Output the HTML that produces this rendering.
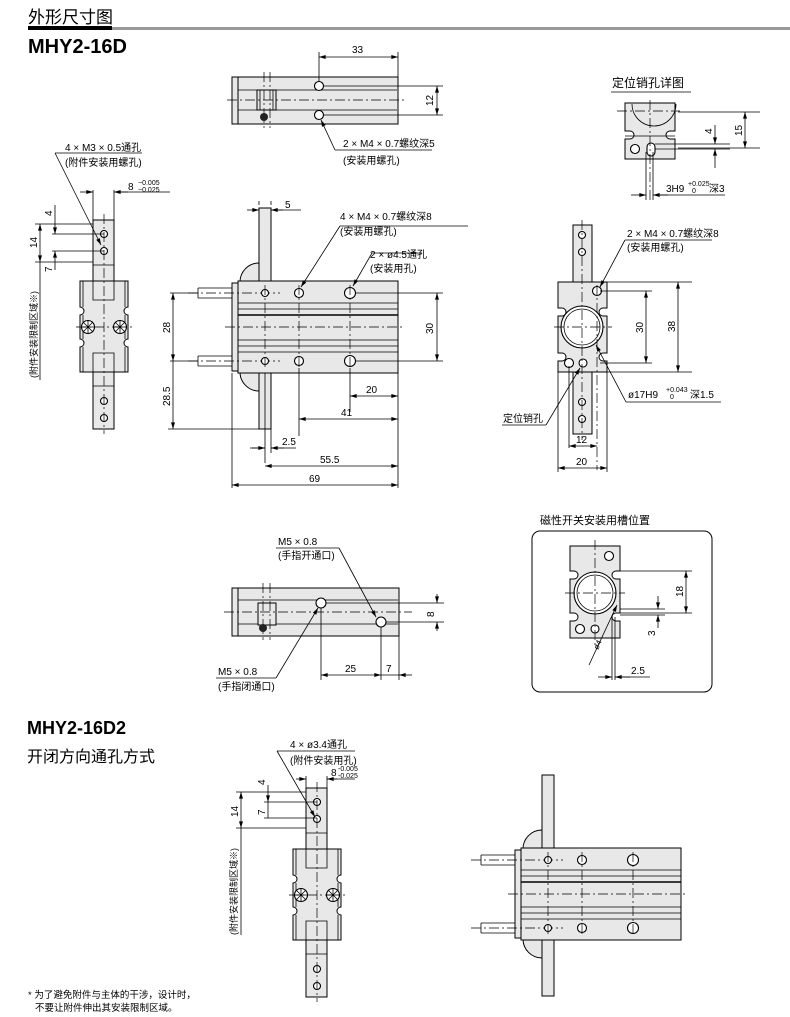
<!DOCTYPE html>
<html><head><meta charset="utf-8"><style>
html,body{margin:0;padding:0;background:#fff}
svg{display:block}
text{font-family:"Liberation Sans","Noto Sans CJK SC",sans-serif;fill:#000}
.t{font-size:10px}
.s{font-size:7px}
.b{fill:#e8e8e8;stroke:#000;stroke-width:1}
.l{stroke:#000;stroke-width:0.8;fill:none}
.c{stroke:#000;stroke-width:0.7;fill:none;stroke-dasharray:10 3 2 3}
.h{fill:#fff;stroke:#000;stroke-width:1.1}
</style></head><body>
<svg width="790" height="1017" viewBox="0 0 790 1017" xmlns="http://www.w3.org/2000/svg">
<defs>
<marker id="a" viewBox="0 0 10 6" refX="10" refY="3" markerWidth="9" markerHeight="5" orient="auto-start-reverse"><path d="M0,0L10,3L0,6z" fill="#000"/></marker>
<g id="side">
 <rect class="b" x="93" y="220" width="21" height="62"/>
 <path class="b" d="M80,281H128V307A4,4 0 0 0 128,315V339A4,4 0 0 0 128,347V372H80V347A4,4 0 0 0 80,339V315A4,4 0 0 0 80,307Z"/>
 <path class="l" d="M93,281V300H114V281M93,372V353H114V372M83,281V307M125,281V307M83,347V372M125,347V372M83,315V339M125,315V339"/>
 <rect class="b" x="93" y="372" width="21" height="57"/>
 <line class="l" x1="93" y1="265" x2="114" y2="265"/><line class="l" x1="93" y1="386" x2="114" y2="386"/>
 <circle class="h" cx="104" cy="234" r="3.5"/><circle class="h" cx="104" cy="251" r="3.5"/>
 <circle class="h" cx="104" cy="401" r="3.5"/><circle class="h" cx="104" cy="418" r="3.5"/>
 <circle class="h" cx="88" cy="327" r="6.5"/><circle class="h" cx="120" cy="327" r="6.5"/>
 <path class="l" d="M83,322l10,10M83,332l10,-10M88,320v14M81,327h14M115,322l10,10M115,332l10,-10M120,320v14M113,327h14"/>
 <line class="c" x1="104" y1="214" x2="104" y2="434"/>
 <line class="c" x1="76" y1="327" x2="132" y2="327"/>
</g>
<g id="front">
 <rect class="b" x="259" y="208" width="12" height="221"/>
 <path class="b" d="M259,263A19,19 0 0 0 240,282H259Z"/>
 <path class="b" d="M259,391A19,19 0 0 1 240,372H259Z"/>
 <rect class="b" x="238" y="281" width="160" height="92"/>
 <rect class="b" x="232" y="283" width="6" height="88"/>
 <path class="l" d="M238,303H398M238,309H398M238,340H398M238,346H398M238,352H398"/>
 <path stroke="#000" stroke-width="1.5" d="M238,315H398"/>
 <path class="l" d="M198,288h34M198,298h34M198,288v10M198,356h34M198,366h34M198,356v10"/>
 <line class="c" x1="188" y1="293" x2="280" y2="293"/><line class="c" x1="188" y1="361" x2="280" y2="361"/>
 <circle class="h" cx="265" cy="293" r="3.5"/><circle class="h" cx="265" cy="361" r="3.5"/>
 <circle class="h" cx="299" cy="293" r="4.5" stroke-width="1.6"/><circle class="h" cx="299" cy="361" r="4.5" stroke-width="1.6"/>
 <circle class="h" cx="350" cy="293" r="5.5"/><circle class="h" cx="350" cy="361" r="5.5"/>
 <line class="c" x1="225" y1="327" x2="405" y2="327"/>
 <line class="c" x1="265" y1="285" x2="265" y2="369"/><line class="c" x1="299" y1="285" x2="299" y2="369"/><line class="c" x1="350" y1="285" x2="350" y2="369"/>
</g>
</defs>

<!-- header -->
<text x="28" y="23" style="font-size:17px">外形尺寸图</text>
<rect x="28" y="27" width="762" height="3" fill="#999"/>
<rect x="28" y="26" width="84" height="4" fill="#000"/>
<text x="28" y="53" style="font-size:20px;font-weight:bold">MHY2-16D</text>

<!-- top view -->
<rect class="b" x="232" y="77" width="166" height="47"/>
<rect class="b" x="232" y="77" width="6" height="47"/>
<path class="l" d="M238,90h159M238,110h159"/>
<rect class="b" x="257" y="90" width="19" height="20"/>
<path class="l" d="M260,90v20M273,90v20"/>
<line class="c" x1="264" y1="72" x2="264" y2="128"/><line class="c" x1="270" y1="72" x2="270" y2="128"/>
<circle cx="264" cy="117" r="4" fill="#222"/>
<circle class="h" cx="319" cy="86" r="4.5" stroke-width="1.5"/><circle class="h" cx="319" cy="115" r="4.5" stroke-width="1.5"/>
<line class="c" x1="227" y1="100" x2="405" y2="100"/>
<path class="l" d="M319,52v30M398,52v25"/>
<line class="l" x1="319" y1="57" x2="398" y2="57" marker-start="url(#a)" marker-end="url(#a)"/>
<text x="352" y="53" class="t">33</text>
<path class="l" d="M323,86h120M323,115h120"/>
<line class="l" x1="437" y1="86" x2="437" y2="115" marker-start="url(#a)" marker-end="url(#a)"/>
<text class="t" transform="translate(433,106) rotate(-90)">12</text>
<path class="l" d="M335,150h97"/>
<line class="l" x1="335" y1="150" x2="321" y2="120" marker-end="url(#a)"/>
<text x="343" y="147" class="t">2 × M4 × 0.7螺纹深5</text>
<text x="343" y="164" class="t">(安装用螺孔)</text>

<!-- left side view -->
<use href="#side"/>
<text x="65" y="151" class="t">4 × M3 × 0.5通孔</text>
<text x="65" y="166" class="t">(附件安装用螺孔)</text>
<path class="l" d="M55,153h87"/>
<line class="l" x1="55" y1="153" x2="101" y2="245" marker-end="url(#a)"/>
<path class="l" d="M93,190v30M114,190v30M120,192h50"/>
<line class="l" x1="80" y1="192" x2="93" y2="192" marker-end="url(#a)"/>
<line class="l" x1="128" y1="192" x2="114" y2="192" marker-end="url(#a)"/>
<text x="128" y="190" class="t">8</text>
<text x="138" y="185" class="s">−0.005</text><text x="138" y="192" class="s">−0.025</text>
<path class="l" d="M35,224h58M52,234h52M52,251h52M35,262h58"/>
<line class="l" x1="55" y1="205" x2="55" y2="234" marker-end="url(#a)"/>
<line class="l" x1="55" y1="270" x2="55" y2="251" marker-end="url(#a)"/>
<line class="l" x1="40" y1="224" x2="40" y2="262" marker-start="url(#a)" marker-end="url(#a)"/>
<line class="l" x1="40" y1="262" x2="40" y2="380"/>
<text class="t" transform="translate(52,216) rotate(-90)">4</text>
<text class="t" transform="translate(37,248) rotate(-90)">14</text>
<text class="t" transform="translate(52,272) rotate(-90)">7</text>
<text style="font-size:9px" transform="translate(37,378) rotate(-90)">(附件安装限制区域※)</text>

<!-- front view -->
<use href="#front"/>
<path class="l" d="M259,205v-4M271,205v-4M271,210h30"/>
<line class="l" x1="247" y1="210" x2="259" y2="210" marker-end="url(#a)"/>
<line class="l" x1="283" y1="210" x2="271" y2="210" marker-end="url(#a)"/>
<text x="285" y="208" class="t">5</text>
<path class="l" d="M340,226h128"/>
<line class="l" x1="340" y1="226" x2="301" y2="287" marker-end="url(#a)"/>
<text x="340" y="220" class="t">4 × M4 × 0.7螺纹深8</text>
<text x="340" y="235" class="t">(安装用螺孔)</text>
<path class="l" d="M372,253h50"/>
<line class="l" x1="372" y1="253" x2="353" y2="286" marker-end="url(#a)"/>
<text x="370" y="258" class="t">2 × ø4.5通孔</text>
<text x="370" y="272" class="t">(安装用孔)</text>
<path class="l" d="M170,293h28M170,361h28M355,293h88M355,361h88"/>
<line class="l" x1="437" y1="293" x2="437" y2="361" marker-start="url(#a)" marker-end="url(#a)"/>
<text class="t" transform="translate(433,334) rotate(-90)">30</text>
<line class="l" x1="173" y1="293" x2="173" y2="361" marker-start="url(#a)" marker-end="url(#a)"/>
<text class="t" transform="translate(170,333) rotate(-90)">28</text>
<line class="l" x1="173" y1="361" x2="173" y2="429" marker-end="url(#a)"/>
<path class="l" d="M168,429h91"/>
<text class="t" transform="translate(170,406) rotate(-90)">28.5</text>
<path class="l" d="M350,368v44M299,368v68M398,373v115M265,373v90M232,373v115M271,429v24"/>
<line class="l" x1="350" y1="396" x2="398" y2="396" marker-start="url(#a)" marker-end="url(#a)"/>
<text x="366" y="393" class="t">20</text>
<line class="l" x1="299" y1="419" x2="398" y2="419" marker-start="url(#a)" marker-end="url(#a)"/>
<text x="341" y="416" class="t">41</text>
<path class="l" d="M250,448h15M271,448h25"/>
<line class="l" x1="252" y1="448" x2="265" y2="448" marker-end="url(#a)"/>
<line class="l" x1="284" y1="448" x2="271" y2="448" marker-end="url(#a)"/>
<text x="282" y="445" class="t">2.5</text>
<line class="l" x1="265" y1="466" x2="398" y2="466" marker-start="url(#a)" marker-end="url(#a)"/>
<text x="320" y="463" class="t">55.5</text>
<line class="l" x1="232" y1="485" x2="398" y2="485" marker-start="url(#a)" marker-end="url(#a)"/>
<text x="309" y="482" class="t">69</text>

<!-- pin hole detail -->
<text x="612" y="87" style="font-size:12px">定位销孔详图</text>
<line class="l" x1="611" y1="92" x2="691" y2="92"/>
<path class="b" d="M625,103h50v28h-5a4,4 0 0 0 0,8h5v20h-50v-20h5a4,4 0 0 0 0,-8h-5z"/>
<path class="l" d="M632,104a22,22 0 0 0 44,0" stroke-width="1.2"/>
<line class="l" x1="625" y1="136" x2="675" y2="136"/>
<circle class="h" cx="635" cy="149" r="4.5" stroke-width="1.6"/>
<rect class="h" x="647" y="143" width="8" height="13" rx="4"/>
<line class="c" x1="650" y1="100" x2="650" y2="200"/>
<line class="c" x1="617" y1="111" x2="680" y2="111"/>
<path class="l" d="M678,112h82M655,144h75M655,149h75M678,148h82M646,152v48M653,152v48"/>
<line class="l" x1="745" y1="112" x2="745" y2="148" marker-start="url(#a)" marker-end="url(#a)"/>
<text class="t" transform="translate(742,136) rotate(-90)">15</text>
<line class="l" x1="715" y1="125" x2="715" y2="144" marker-end="url(#a)"/>
<line class="l" x1="715" y1="168" x2="715" y2="149" marker-end="url(#a)"/>
<text class="t" transform="translate(712,134) rotate(-90)">4</text>
<line class="l" x1="631" y1="195" x2="646" y2="195" marker-end="url(#a)"/>
<line class="l" x1="668" y1="195" x2="653" y2="195" marker-end="url(#a)"/>
<line class="l" x1="660" y1="195" x2="725" y2="195"/>
<text x="666" y="192" class="t">3H9</text>
<text x="688" y="186" class="s">+0.025</text><text x="692" y="193" class="s">0</text>
<text x="709" y="192" class="t">深3</text>

<!-- right end view -->
<rect class="b" x="573" y="225" width="19" height="57"/>
<rect class="b" x="573" y="372" width="19" height="62"/>
<path class="b" d="M558,282h49v26h-4a4,4 0 0 0 0,8h4v37h-4a4,4 0 0 0 0,8h4v11h-49v-11h4a4,4 0 0 0 0,-8h-4v-37h4a4,4 0 0 0 0,-8h-4z"/>
<circle class="h" cx="582" cy="327" r="21" stroke-width="1.2"/>
<circle class="l" cx="582" cy="327" r="18"/>
<circle class="h" cx="597" cy="291" r="4.5" stroke-width="1.6"/>
<circle class="h" cx="569" cy="363" r="4.5" stroke-width="1.6"/>
<circle class="h" cx="583" cy="363" r="4"/>
<circle class="h" cx="582" cy="235" r="3.5"/><circle class="h" cx="582" cy="252" r="3.5"/>
<circle class="h" cx="582" cy="402" r="3.5"/><circle class="h" cx="582" cy="419" r="3.5"/>
<line class="c" x1="582" y1="220" x2="582" y2="440"/>
<line class="c" x1="554" y1="327" x2="612" y2="327"/>
<line class="c" x1="597" y1="285" x2="597" y2="470"/>
<path class="l" d="M607,282h85M607,372h85M600,291h52M600,363h52M569,366v82M558,372v100M607,372v100"/>
<line class="l" x1="646" y1="291" x2="646" y2="363" marker-start="url(#a)" marker-end="url(#a)"/>
<text class="t" transform="translate(643,333) rotate(-90)">30</text>
<line class="l" x1="678" y1="282" x2="678" y2="372" marker-start="url(#a)" marker-end="url(#a)"/>
<text class="t" transform="translate(675,332) rotate(-90)">38</text>
<line class="l" x1="569" y1="446" x2="597" y2="446" marker-start="url(#a)" marker-end="url(#a)"/>
<text x="576" y="443" class="t">12</text>
<line class="l" x1="558" y1="468" x2="607" y2="468" marker-start="url(#a)" marker-end="url(#a)"/>
<text x="576" y="465" class="t">20</text>
<path class="l" d="M625,240h87"/>
<line class="l" x1="625" y1="240" x2="600" y2="287" marker-end="url(#a)"/>
<text x="627" y="237" class="t">2 × M4 × 0.7螺纹深8</text>
<text x="627" y="251" class="t">(安装用螺孔)</text>
<path class="l" d="M626,402h95"/>
<line class="l" x1="626" y1="402" x2="596" y2="345" marker-end="url(#a)"/>
<text x="628" y="398" class="t">ø17H9</text>
<text x="666" y="392" class="s">+0.043</text><text x="670" y="399" class="s">0</text>
<text x="690" y="398" class="t">深1.5</text>
<path class="l" d="M502,425h44"/>
<line class="l" x1="546" y1="425" x2="580" y2="368" marker-end="url(#a)"/>
<text x="503" y="422" class="t">定位销孔</text>

<!-- bottom side view -->
<rect class="b" x="232" y="588" width="167" height="48"/>
<rect class="b" x="232" y="588" width="6" height="48"/>
<path class="l" d="M238,600h160M238,624h160"/>
<rect class="b" x="258" y="603" width="18" height="22"/>
<line class="c" x1="263" y1="583" x2="263" y2="640"/><line class="c" x1="270" y1="583" x2="270" y2="640"/>
<circle cx="263" cy="628" r="4" fill="#222"/>
<circle class="h" cx="321" cy="603" r="5" stroke-width="1.5"/><circle class="h" cx="381" cy="622" r="5" stroke-width="1.5"/>
<line class="c" x1="224" y1="612" x2="412" y2="612"/>
<path class="l" d="M326,603h118M386,622h58M321,608v72M381,627v53M399,636v44"/>
<line class="l" x1="437" y1="594" x2="437" y2="603" marker-end="url(#a)"/>
<line class="l" x1="437" y1="631" x2="437" y2="622" marker-end="url(#a)"/>
<text class="t" transform="translate(434,617) rotate(-90)">8</text>
<line class="l" x1="321" y1="675" x2="381" y2="675" marker-start="url(#a)" marker-end="url(#a)"/>
<line class="l" x1="412" y1="675" x2="399" y2="675" marker-end="url(#a)"/>
<line class="l" x1="381" y1="675" x2="399" y2="675"/>
<text x="345" y="672" class="t">25</text><text x="386" y="672" class="t">7</text>
<text x="278" y="545" class="t">M5 × 0.8</text>
<text x="278" y="559" class="t">(手指开通口)</text>
<path class="l" d="M276,548h63"/>
<line class="l" x1="339" y1="548" x2="376" y2="617" marker-end="url(#a)"/>
<text x="218" y="675" class="t">M5 × 0.8</text>
<text x="218" y="690" class="t">(手指闭通口)</text>
<path class="l" d="M216,678h60"/>
<line class="l" x1="276" y1="678" x2="318" y2="608" marker-end="url(#a)"/>

<!-- magnetic switch box -->
<text x="540" y="524" style="font-size:11px">磁性开关安装用槽位置</text>
<rect x="532" y="531" width="180" height="161" rx="8" fill="none" stroke="#000" stroke-width="1"/>
<path class="b" d="M570,546h50v25h-4a4,4 0 0 0 0,8h4v34h-4a4,4 0 0 0 0,8h4v17h-50v-17h4a4,4 0 0 0 0,-8h-4v-34h4a4,4 0 0 0 0,-8h-4z"/>
<circle class="h" cx="595" cy="593" r="21" stroke-width="1.2"/>
<circle class="l" cx="595" cy="593" r="18"/>
<circle class="h" cx="609" cy="556" r="4.5" stroke-width="1.6"/>
<circle class="h" cx="580" cy="629" r="4.5" stroke-width="1.6"/>
<circle class="h" cx="595" cy="629" r="4"/>
<line class="c" x1="595" y1="540" x2="595" y2="645"/>
<line class="c" x1="565" y1="593" x2="625" y2="593"/>
<path class="l" d="M620,571h72M620,613h72M620,609h45M620,615h45M612,617v63M615,617v63"/>
<line class="l" x1="686" y1="571" x2="686" y2="613" marker-start="url(#a)" marker-end="url(#a)"/>
<text class="t" transform="translate(683,597) rotate(-90)">18</text>
<line class="l" x1="658" y1="596" x2="658" y2="609" marker-end="url(#a)"/>
<line class="l" x1="658" y1="628" x2="658" y2="615" marker-end="url(#a)"/>
<text class="t" transform="translate(655,636) rotate(-90)">3</text>
<line class="l" x1="589" y1="665" x2="617" y2="605" marker-end="url(#a)"/>
<text class="s" style="font-size:8px" transform="translate(598,650) rotate(-65)">ø4</text>
<line class="l" x1="598" y1="677" x2="612" y2="677" marker-end="url(#a)"/>
<line class="l" x1="630" y1="677" x2="615" y2="677" marker-end="url(#a)"/>
<line class="l" x1="615" y1="677" x2="650" y2="677"/>
<text x="631" y="674" class="t">2.5</text>

<!-- D2 -->
<text x="27" y="734" style="font-size:18px;font-weight:bold">MHY2-16D2</text>
<text x="27" y="762" style="font-size:16px">开闭方向通孔方式</text>
<use href="#side" transform="translate(213,568)"/>
<use href="#front" transform="translate(283,567)"/>
<text x="290" y="748" class="t">4 × ø3.4通孔</text>
<text x="290" y="764" class="t">(附件安装用孔)</text>
<path class="l" d="M277,751h78"/>
<line class="l" x1="277" y1="751" x2="315" y2="817" marker-end="url(#a)"/>
<path class="l" d="M306,776v16M327,776v16M327,779h28"/>
<line class="l" x1="296" y1="779" x2="306" y2="779" marker-end="url(#a)"/>
<line class="l" x1="337" y1="779" x2="327" y2="779" marker-end="url(#a)"/>
<text x="331" y="776" class="t">8</text>
<text x="338" y="771" class="s">-0.005</text><text x="338" y="778" class="s">-0.025</text>
<path class="l" d="M236,792h70M264,802h53M264,818h53M236,828h70"/>
<line class="l" x1="268" y1="785" x2="268" y2="802" marker-end="url(#a)"/>
<line class="l" x1="268" y1="802" x2="268" y2="818"/>
<text class="t" transform="translate(265,785) rotate(-90)">4</text>
<text class="t" transform="translate(265,815) rotate(-90)">7</text>
<line class="l" x1="241" y1="792" x2="241" y2="828" marker-start="url(#a)" marker-end="url(#a)"/>
<line class="l" x1="241" y1="828" x2="241" y2="935"/>
<text class="t" transform="translate(238,817) rotate(-90)">14</text>
<text style="font-size:9px" transform="translate(237,935) rotate(-90)">(附件安装限制区域※)</text>

<text x="28" y="998" style="font-size:9.5px">* 为了避免附件与主体的干涉，设计时，</text>
<text x="35" y="1011" style="font-size:9.5px">不要让附件伸出其安装限制区域。</text>
</svg>
</body></html>
